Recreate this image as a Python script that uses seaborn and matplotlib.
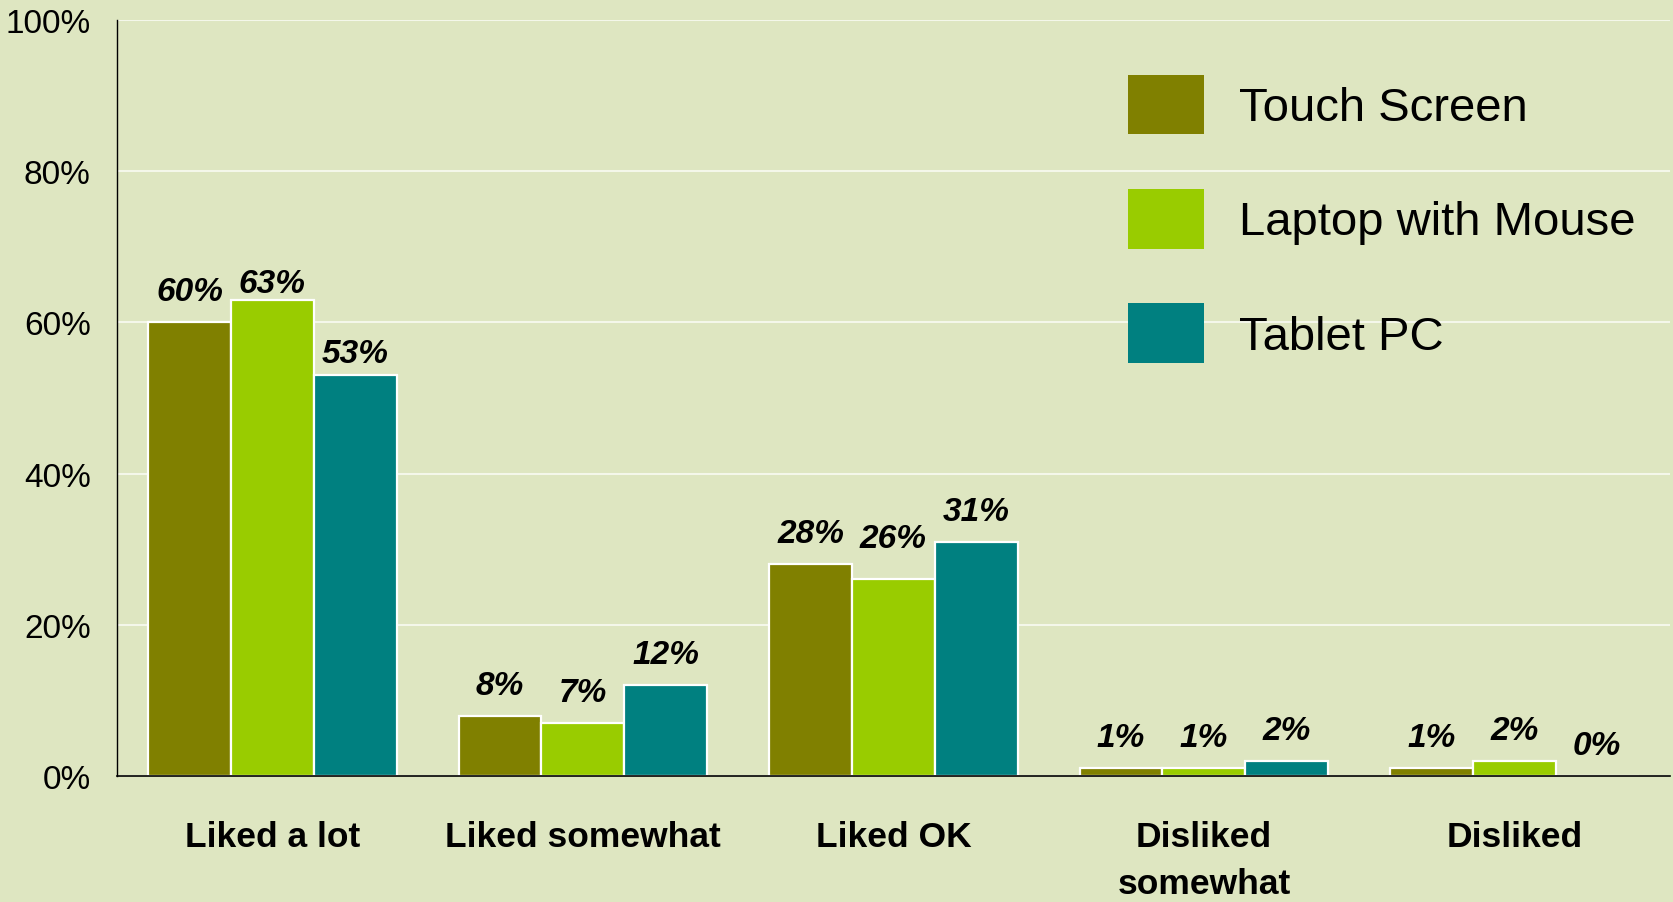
import matplotlib
matplotlib.use("Agg")
import matplotlib.pyplot as plt
from matplotlib.patches import Patch
from matplotlib.ticker import FuncFormatter
import pandas as pd
import seaborn as sns

# Survey responses by input device (percent of respondents)
categories = ["Liked a lot", "Liked somewhat", "Liked OK", "Disliked\nsomewhat", "Disliked"]
devices = ["Touch Screen", "Laptop with Mouse", "Tablet PC"]
touch_screen = [60, 8, 28, 1, 1]
laptop_mouse = [63, 7, 26, 1, 2]
tablet_pc = [53, 12, 31, 2, 0]
y_ticks = [0, 20, 40, 60, 80, 100]

colors = ["#808000", "#99CC00", "#008080"]
bg = "#DEE6C1"

# gap (pixels) between a bar's top and the baseline of its value label
label_gap_default = 22
label_gap = {("Laptop with Mouse", 0): 8, ("Tablet PC", 0): 13,
             ("Laptop with Mouse", 2): 32}

rows = []
for dev, vals in zip(devices, [touch_screen, laptop_mouse, tablet_pc]):
    for cat, v in zip(categories, vals):
        rows.append({"category": cat, "device": dev, "value": v})
df = pd.DataFrame(rows)

sns.set_style("white")
plt.rcParams["font.family"] = ["Liberation Sans", "DejaVu Sans"]
plt.rcParams["text.color"] = "black"
plt.rcParams["xtick.color"] = "black"
plt.rcParams["ytick.color"] = "black"

fig = plt.figure(figsize=(16.73, 9.03), dpi=100, facecolor=bg)
ax = fig.add_axes([0.070, 0.1395, 0.928, 0.8375])
ax.set_facecolor(bg)

sns.barplot(data=df, x="category", y="value", hue="device", order=categories,
            hue_order=devices, palette=colors, edgecolor="white", linewidth=1.6,
            saturation=1, width=0.8, ax=ax, legend=False)

ax.set_ylim(0, 100)
ax.set_xlim(-0.5, len(categories) - 0.5)
ax.set_yticks(y_ticks)
ax.yaxis.set_major_formatter(FuncFormatter(lambda v, p: f"{v:.0f}%"))
ax.grid(axis="y", color="#F4F7EA", linewidth=1.5)
ax.set_axisbelow(True)
for s in ["top", "right"]:
    ax.spines[s].set_visible(False)
ax.spines["left"].set_color("black")
ax.spines["bottom"].set_color("black")
ax.spines["left"].set_linewidth(1.0)
ax.spines["bottom"].set_linewidth(1.2)
ax.tick_params(axis="y", which="major", direction="out", length=8, width=1,
               color="black", labelsize=24, labelcolor="black", pad=11)
ax.tick_params(axis="x", length=0, pad=32, labelcolor="black")
for lbl in ax.get_xticklabels():
    lbl.set_fontsize(25.5)
    lbl.set_fontweight("bold")
    lbl.set_linespacing(1.52)
    lbl.set_verticalalignment("top")
ax.set_xlabel("")
ax.set_ylabel("")

# value labels above each bar
for container, dev in zip(ax.containers, devices):
    for i, (bar, v) in enumerate(zip(container, df[df.device == dev]["value"])):
        gap_px = label_gap.get((dev, i), label_gap_default)
        ax.annotate(f"{v}%", (bar.get_x() + bar.get_width() / 2, v),
                    xytext=(0, gap_px * 0.72), textcoords="offset points",
                    ha="center", va="baseline", fontsize=24,
                    fontweight="bold", fontstyle="italic", color="black")

handles = [Patch(facecolor=c, edgecolor="none") for c in colors]
ax.legend(handles, devices, loc="upper left",
          bbox_to_anchor=(1128 / 1673, 1 - 76 / 903), bbox_transform=fig.transFigure,
          frameon=False, fontsize=34, handlelength=1.6, handleheight=1.56,
          handletextpad=0.75, labelspacing=1.16, borderpad=0, borderaxespad=0)

fig.savefig("out.png", dpi=100, facecolor=bg)
